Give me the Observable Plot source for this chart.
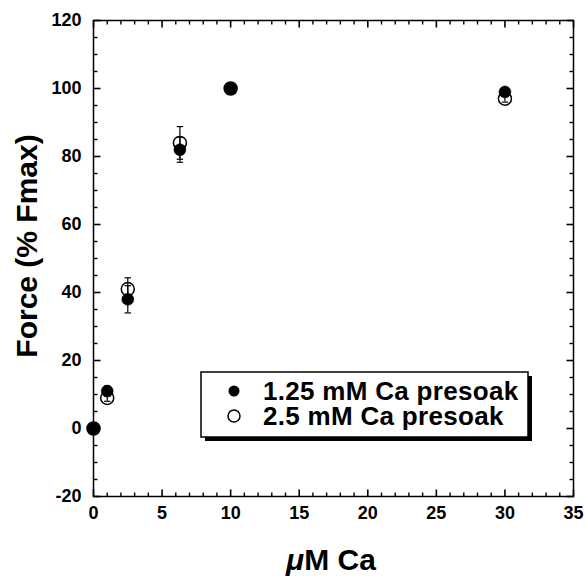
<!DOCTYPE html>
<html>
<head>
<meta charset="utf-8">
<script src="https://cdn.jsdelivr.net/npm/d3@7"></script>
<script src="https://cdn.jsdelivr.net/npm/@observablehq/plot@0.6"></script>
<style>
  html, body { margin: 0; padding: 0; background: #fff; }
  #chart { position: relative; width: 585px; height: 580px; }
</style>
</head>
<body>
<div id="chart"></div>
<script>
// Data
const caConc   = [0, 1, 2.5, 6.3, 10, 30];          // µM Ca
const force125 = [0, 11, 38, 82, 100, 99];           // 1.25 mM Ca presoak
const err125   = [0, 1.5, 4, 3.7, 0, 1.2];
const force25  = [0, 9, 41, 84, 100, 97];            // 2.5 mM Ca presoak
const err25    = [0, 1, 3.3, 4.8, 0, 1];

const xMajor = [0, 5, 10, 15, 20, 25, 30, 35];
const xMinor = d3.range(0, 36, 1).filter(v => v % 5 !== 0);
const yMajor = [-20, 0, 20, 40, 60, 80, 100, 120];
const yMinor = d3.range(-20, 121, 5).filter(v => v % 20 !== 0);

const seriesNames = ["1.25 mM Ca presoak", "2.5 mM Ca presoak"];

const xDomain = [0, 35], yDomain = [-20, 120];

const s125 = caConc.map((x, i) => ({x, y: force125[i], e: err125[i]}));
const s25  = caConc.map((x, i) => ({x, y: force25[i],  e: err25[i]}));
const withErr = s125.concat(s25).filter(d => d.e > 0);
const caps = withErr.flatMap(d => [{x: d.x, y: d.y - d.e}, {x: d.x, y: d.y + d.e}]);

// line symbols: length in px = r
const lineSymbol = (dx, dy) => ({
  draw(context, size) {
    const l = Math.sqrt(size / Math.PI);
    context.moveTo(dx === 0 ? 0 : 0, 0);
    context.lineTo(dx * l, dy * l);
  }
});
const capSymbol = {
  draw(context, size) {
    const w = Math.sqrt(size / Math.PI);
    context.moveTo(-w, 0);
    context.lineTo(w, 0);
  }
};
const tickUp = lineSymbol(0, -1), tickDown = lineSymbol(0, 1);
const tickRight = lineSymbol(1, 0), tickLeft = lineSymbol(-1, 0);

function edgeTicks(xs, ys, len, sw) {
  return [
    Plot.dot(xs, {x: d => d, y: () => yDomain[0], symbol: tickUp, r: len, stroke: "black", strokeWidth: sw, fill: "none"}),
    Plot.dot(xs, {x: d => d, y: () => yDomain[1], symbol: tickDown, r: len, stroke: "black", strokeWidth: sw, fill: "none"}),
    Plot.dot(ys, {y: d => d, x: () => xDomain[0], symbol: tickRight, r: len, stroke: "black", strokeWidth: sw, fill: "none"}),
    Plot.dot(ys, {y: d => d, x: () => xDomain[1], symbol: tickLeft, r: len, stroke: "black", strokeWidth: sw, fill: "none"})
  ];
}

const plot = Plot.plot({
  width: 585,
  height: 580,
  marginLeft: 93,
  marginRight: 12,
  marginTop: 20,
  marginBottom: 84,
  style: {fontFamily: "Liberation Sans, Arial, sans-serif", fontSize: "18px", fontWeight: "bold", color: "black", background: "white"},
  x: {domain: xDomain},
  y: {domain: yDomain},
  marks: [
    ...edgeTicks(xMinor, yMinor, 4, 1.4),
    ...edgeTicks(xMajor, yMajor, 7, 1.6),
    Plot.frame({stroke: "black", strokeWidth: 1.5}),
    // tick labels
    Plot.axisX(xMajor, {anchor: "bottom", tickSize: 0, tickPadding: 10, tickFormat: d => String(d), label: null}),
    Plot.axisY(yMajor, {anchor: "left", tickSize: 0, tickPadding: 12, tickFormat: d => String(d), label: null}),
    // series
    Plot.dot(s25, {x: "x", y: "y", r: 6.5, fill: "white", stroke: "black", strokeWidth: 1.5}),
    Plot.dot(s125, {x: "x", y: "y", r: 6, fill: "black", stroke: "black", strokeWidth: 0.5}),
    // error bars
    Plot.ruleX(withErr, {x: "x", y1: d => d.y - d.e, y2: d => d.y + d.e, stroke: "black", strokeWidth: 1.2}),
    Plot.dot(caps, {x: "x", y: "y", r: 3.2, symbol: capSymbol, stroke: "black", strokeWidth: 1.2, fill: "none"})
  ]
});

document.getElementById("chart").appendChild(plot);

// Axis titles and legend inside the SVG
const svg = d3.select(plot);
const font = "Liberation Sans, Arial, sans-serif";
svg.append("text")
  .attr("transform", "translate(37,246) rotate(-90)")
  .attr("text-anchor", "middle")
  .attr("font-family", font)
  .attr("font-size", 30).attr("font-weight", "bold").attr("fill", "black")
  .text("Force (% Fmax)");

const xt = svg.append("text")
  .attr("x", 331).attr("y", 570)
  .attr("text-anchor", "middle")
  .attr("font-family", font)
  .attr("font-size", 30).attr("font-weight", "bold").attr("fill", "black");
xt.append("tspan").attr("font-style", "italic").text("μ");
xt.append("tspan").text("M Ca");

const lg = svg.append("g");
lg.append("rect").attr("x", 205).attr("y", 376).attr("width", 327).attr("height", 65).attr("fill", "black");
lg.append("rect").attr("x", 201).attr("y", 372).attr("width", 327).attr("height", 65).attr("fill", "white").attr("stroke", "black").attr("stroke-width", 1.5);
lg.append("circle").attr("cx", 234).attr("cy", 391).attr("r", 5.5).attr("fill", "black");
lg.append("circle").attr("cx", 234).attr("cy", 416).attr("r", 6).attr("fill", "white").attr("stroke", "black").attr("stroke-width", 1.5);
seriesNames.forEach((name, i) => {
  lg.append("text")
    .attr("x", 263).attr("y", 400 + i * 25)
    .attr("text-anchor", "start")
    .attr("font-family", font)
    .attr("font-size", 26).attr("font-weight", "bold").attr("fill", "black")
    .attr("letter-spacing", 0.3)
    .text(name);
});
</script>
</body>
</html>
